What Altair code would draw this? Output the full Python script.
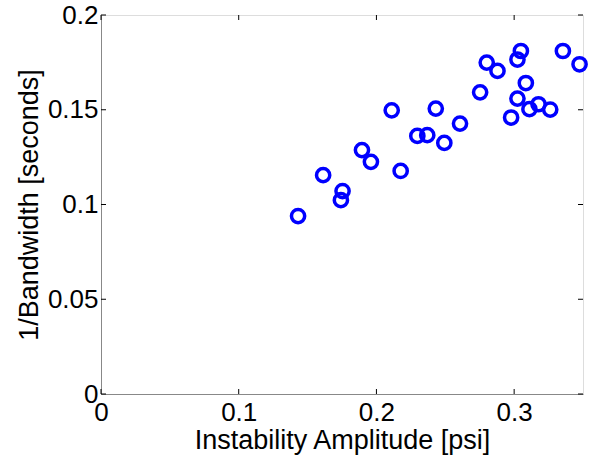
import altair as alt
import pandas as pd

# Data
amplitude = [0.1431, 0.1613, 0.1754, 0.1742, 0.1895, 0.1960, 0.2176, 0.2111,
             0.2431, 0.2607, 0.2297, 0.2369, 0.2493, 0.2753, 0.2801, 0.2879,
             0.3049, 0.3024, 0.3354, 0.3475, 0.3085, 0.3024, 0.3111, 0.3177,
             0.3262, 0.2978]
inv_bandwidth = [0.0939, 0.1155, 0.1071, 0.1023, 0.1287, 0.1225, 0.1177, 0.1497,
                 0.1506, 0.1427, 0.1362, 0.1366, 0.1325, 0.1592, 0.1749, 0.1705,
                 0.1810, 0.1765, 0.1810, 0.1740, 0.1641, 0.1559, 0.1503, 0.1529,
                 0.1501, 0.1459]
x_ticks = [0, 0.1, 0.2, 0.3]
y_ticks = [0, 0.05, 0.1, 0.15, 0.2]

W, H = 482, 379
TL = 5  # inward tick length
FONT = "Liberation Sans"
LFS = 26  # tick label font size
TFS = 27  # axis title font size

df = pd.DataFrame({"amp": amplitude, "ibw": inv_bandwidth})
xs = alt.Scale(domain=[0, 0.35], nice=False, zero=False)
ys = alt.Scale(domain=[0, 0.2], nice=False, zero=False)

points = alt.Chart(df).mark_point(
    shape="circle", filled=False, color="#0000FF", size=175,
    strokeWidth=3.5, opacity=1
).encode(
    x=alt.X("amp:Q", scale=xs, axis=alt.Axis(
        values=x_ticks, format="~g", ticks=False, grid=False,
        labelFlush=False, labelOverlap=False, labelPadding=5,
        labelFontSize=LFS, titleFontSize=TFS, titleFontWeight="normal",
        labelFont=FONT, titleFont=FONT,
        title="Instability Amplitude [psi]",
        titleX=W / 2, titleY=54, titleBaseline="alphabetic",
        titleAlign="center")),
    y=alt.Y("ibw:Q", scale=ys, axis=alt.Axis(
        values=y_ticks, format="~g", ticks=False, grid=False,
        labelFlush=False, labelOverlap=False, labelPadding=3,
        labelFontSize=LFS, titleFontSize=TFS, titleFontWeight="normal",
        labelFont=FONT, titleFont=FONT,
        title="1/Bandwidth [seconds]",
        titleX=-64, titleY=H / 2, titleAngle=270,
        titleBaseline="alphabetic", titleAlign="center")),
)

xt = pd.DataFrame({"amp": x_ticks})
yt = pd.DataFrame({"ibw": y_ticks})

bottom_ticks = alt.Chart(xt).mark_rule(color="black", strokeWidth=1).encode(
    x=alt.X("amp:Q", scale=xs), y=alt.value(H), y2=alt.value(H - TL))
top_ticks = alt.Chart(xt).mark_rule(color="black", strokeWidth=1).encode(
    x=alt.X("amp:Q", scale=xs), y=alt.value(0), y2=alt.value(TL))
left_ticks = alt.Chart(yt).mark_rule(color="black", strokeWidth=1).encode(
    y=alt.Y("ibw:Q", scale=ys), x=alt.value(0), x2=alt.value(TL))
right_ticks = alt.Chart(yt).mark_rule(color="black", strokeWidth=1).encode(
    y=alt.Y("ibw:Q", scale=ys), x=alt.value(W), x2=alt.value(W - TL))

chart = alt.layer(bottom_ticks, top_ticks, left_ticks, right_ticks, points).properties(
    width=W, height=H,
    autosize=alt.AutoSizeParams(type="none"),
    padding={"left": 101, "top": 15, "right": 6, "bottom": 61},
).configure_view(
    stroke="black", strokeWidth=1
).configure_axis(
    domainColor="black", labelColor="black", titleColor="black",
    domainWidth=1
).configure(background="white")

chart.save("out.html", embed_options={"renderer": "svg", "actions": False})
